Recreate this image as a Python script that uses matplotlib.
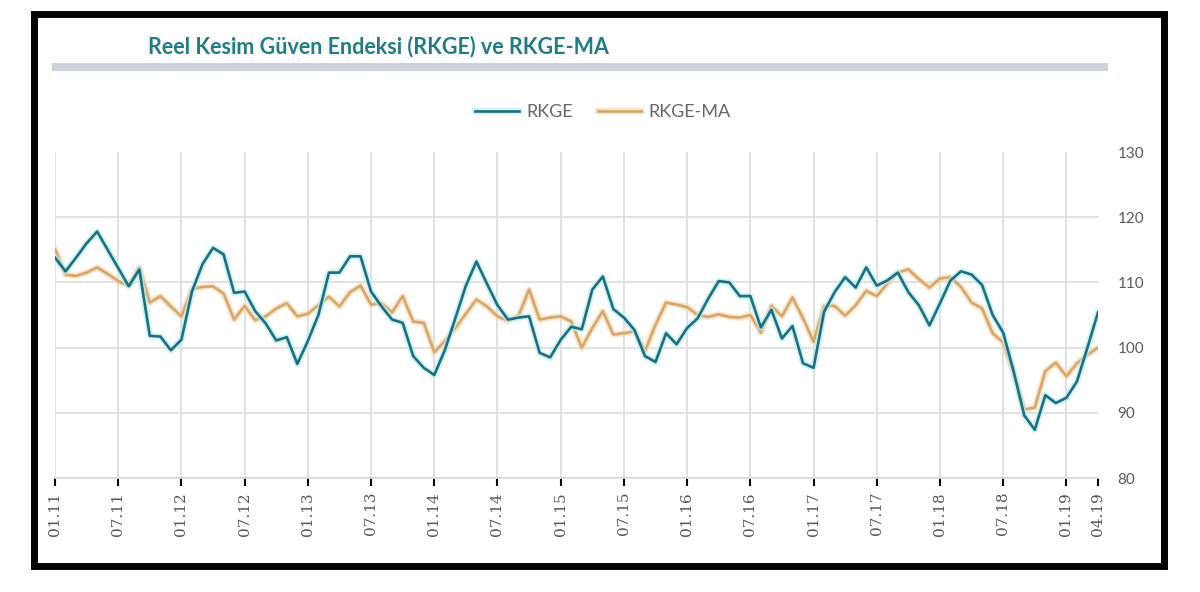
import numpy as np
import matplotlib
matplotlib.use('Agg')
from matplotlib import pyplot as plt
from matplotlib.patches import Rectangle
import matplotlib.patheffects as pe

# aylik veri, 01.2011 - 04.2019
rkge = [113.8, 111.7, 113.8, 116.0, 117.8, 115.0, 112.2, 109.4, 112.0, 101.8,
        101.7, 99.6, 101.2, 108.6, 112.8, 115.3, 114.3, 108.4, 108.6, 105.6,
        103.7, 101.1, 101.6, 97.5, 101.0, 105.0, 111.5, 111.5, 114.0, 114.0,
        108.6, 106.3, 104.3, 103.8, 98.7, 96.9, 95.8, 99.6, 104.5, 109.5,
        113.2, 109.8, 106.5, 104.3, 104.6, 104.8, 99.2, 98.5, 101.2, 103.2,
        102.8, 108.9, 110.9, 105.9, 104.6, 102.7, 98.7, 97.8, 102.2, 100.5,
        103.0, 104.5, 107.5, 110.2, 110.0, 107.9, 107.9, 103.1, 105.8, 101.4,
        103.3, 97.6, 96.9, 105.5, 108.5, 110.8, 109.2, 112.3, 109.5, 110.3,
        111.5, 108.5, 106.5, 103.4, 106.8, 110.3, 111.7, 111.2, 109.6, 105.0,
        102.3, 96.3, 89.6, 87.4, 92.7, 91.5, 92.3, 94.8, 100.0, 105.4]
rkge_ma = [115.1, 111.2, 111.0, 111.5, 112.3, 111.3, 110.2, 109.5, 112.3, 106.9,
           107.9, 106.3, 104.8, 109.0, 109.3, 109.4, 108.3, 104.3, 106.4, 104.2,
           104.8, 106.0, 106.8, 104.8, 105.2, 106.5, 107.8, 106.3, 108.5, 109.5,
           106.6, 106.8, 105.4, 107.9, 104.0, 103.8, 99.3, 101.0, 103.0, 105.2,
           107.4, 106.3, 104.8, 104.1, 104.9, 108.9, 104.3, 104.6, 104.8, 104.0,
           100.0, 103.0, 105.6, 102.0, 102.2, 102.5, 99.5, 103.5, 106.9, 106.6,
           106.2, 105.0, 104.7, 105.1, 104.7, 104.6, 105.0, 102.3, 106.4, 104.8,
           107.7, 104.5, 100.9, 106.4, 106.4, 104.9, 106.5, 108.7, 107.9, 109.8,
           111.5, 112.0, 110.5, 109.2, 110.6, 110.8, 109.3, 106.9, 106.0, 102.2,
           100.8, 96.0, 90.5, 90.8, 96.4, 97.7, 95.6, 97.6, 98.9, 100.0]
tick_labels = ['01.11', '07.11', '01.12', '07.12', '01.13', '07.13', '01.14',
               '07.14', '01.15', '07.15', '01.16', '07.16', '01.17', '07.17',
               '01.18', '07.18', '01.19', '04.19']
y_ticks = [80, 90, 100, 110, 120, 130]

ay = np.arange(len(rkge))
tick_pos = [(int(t[3:]) - 11) * 12 + int(t[:2]) - 1 for t in tick_labels]

fig = plt.figure(figsize=(12, 5.92), dpi=100)
W, H = 1200, 592
ax = fig.add_axes([55 / W, (H - 478) / H, 1043 / W, 326 / H])

teal = '#1b6f7e'
orange = '#daa665'
ax.plot(ay, rkge, color=teal, lw=1.9, label='RKGE', zorder=4,
        path_effects=[pe.Stroke(linewidth=4.5, foreground='#b8eef4', alpha=0.7), pe.Normal()])
ax.plot(ay, rkge_ma, color=orange, lw=1.9, label='RKGE-MA', zorder=3,
        path_effects=[pe.Stroke(linewidth=4.5, foreground='#f4dcb8', alpha=0.7), pe.Normal()])

ax.set_xlim(0, 99)
ax.set_ylim(80, 130)
ax.set_yticks(y_ticks)
ax.set_xticks(tick_pos)
ax.set_xticklabels(tick_labels, rotation=90, fontsize=11, family='DejaVu Serif', color='#555555')
ax.yaxis.tick_right()
ax.tick_params(axis='y', length=0, pad=14, labelsize=11, labelcolor='#595959')
ax.tick_params(axis='x', length=6, width=1.5, color='black', pad=4)
for lab in ax.get_yticklabels():
    lab.set_family('Lato')

ax.grid(True, color='#dedede', lw=1.3)
ax.get_ygridlines()[-1].set_visible(False)
ax.get_xgridlines()[-1].set_visible(False)
ax.set_axisbelow(True)
for s in ['top', 'left', 'right']:
    ax.spines[s].set_visible(False)
ax.spines['bottom'].set_color('#d9d9d9')
ax.spines['bottom'].set_linewidth(1.3)

leg = ax.legend(loc='center', bbox_to_anchor=(603 / W, 1 - 112 / H), bbox_transform=fig.transFigure,
                ncol=2, frameon=False, handlelength=2.4, columnspacing=1.4,
                handletextpad=0.4, prop={'family': 'Lato', 'size': 13})
for t in leg.get_texts():
    t.set_color('#666666')

fig.text(148 / W, 1 - 47 / H, 'Reel Kesim Güven Endeksi (RKGE) ve RKGE-MA', ha='left', va='center',
         fontsize=15.5, fontweight='bold', color='#1f7d86', family='Lato')
fig.patches.append(Rectangle((52 / W, 1 - 71 / H), 1056 / W, 8 / H, transform=fig.transFigure,
                             facecolor='#cdd3dc', edgecolor='none'))
fig.patches.append(Rectangle((33.5 / W, 1 - 566 / H), 1130 / W, 552 / H, transform=fig.transFigure,
                             fill=False, edgecolor='black', lw=5))

plt.savefig('out.png', dpi=100)
